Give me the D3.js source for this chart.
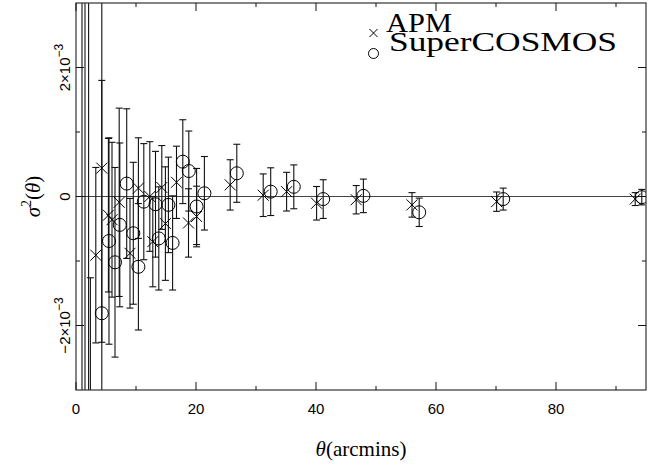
<!DOCTYPE html>
<html>
<head>
<meta charset="utf-8">
<script src="https://cdn.jsdelivr.net/npm/d3@7"></script>
<style>
  body { margin: 0; background: #fff; }
  svg { display: block; }
  .tick-label { font-family: "Liberation Sans", sans-serif; font-size: 15px; fill: #000; }
  .axis-title { font-family: "Liberation Serif", serif; font-size: 21px; fill: #000; }
  .legend-text { font-family: "Liberation Serif", serif; font-size: 28px; fill: #000; }
</style>
</head>
<body>
<svg id="chart" width="652" height="468"></svg>
<script>
'use strict';
(function() {

    // data (sigma and errors in units of 1e-3)
    var apmTheta = [1.0, 2.1, 3.3, 4.3, 5.4, 6.0, 7.2, 9.0, 10.4, 12.3, 12.8, 14.3, 14.9, 16.75, 18.75, 20.1, 25.7, 31.2, 35.1, 40.1, 46.7, 56.0, 70.1, 93.2];
    var apmSigma = [-4.0, -5.0, -0.91, 0.44, -0.29, -0.36, -0.09, -0.88, 0.13, 0.0, -0.70, 0.14, -0.42, 0.22, -0.41, -0.31, 0.18, 0.02, 0.075, -0.105, -0.05, -0.13, -0.08, -0.04];
    var apmErr   = [9.0, 9.0, 1.36, 2.7, 1.19, 1.2, 1.46, 0.85, 0.78, 0.85, 0.70, 0.65, 0.88, 0.56, 0.53, 0.47, 0.39, 0.33, 0.30, 0.26, 0.22, 0.19, 0.15, 0.10];

    var scTheta = [1.5, 2.4, 4.3, 5.5, 6.5, 7.3, 8.45, 9.55, 10.4, 11.3, 13.25, 13.8, 15.4, 16.1, 17.8, 18.8, 20.1, 21.4, 26.8, 32.45, 36.3, 41.2, 47.9, 57.2, 71.2, 94.3];
    var scSigma = [4.0, -5.0, -1.81, -0.69, -1.02, -0.44, 0.20, -0.57, -1.09, -0.08, -0.12, -0.65, -0.13, -0.72, 0.54, 0.395, -0.155, 0.05, 0.36, 0.075, 0.15, -0.04, 0.01, -0.245, -0.04, -0.01];
    var scErr   = [9.0, 3.74, 3.61, 1.6, 1.47, 1.27, 1.16, 1.1, 0.98, 0.9, 0.82, 0.8, 0.74, 0.73, 0.65, 0.62, 0.59, 0.57, 0.45, 0.37, 0.34, 0.30, 0.26, 0.22, 0.17, 0.12];

    var xMajor = [0, 20, 40, 60, 80];
    var xMinor = [10, 30, 50, 70, 90];
    var yMajor = [-2, 0, 2];
    var yMinor = [-1, 1];
    var legendLabels = ['APM', 'SuperCOSMOS'];

    var init = function() {
        var svg = d3.select('#chart');
        var left = 76, right = 646, top = 3, bottom = 390;

        var x = d3.scaleLinear().domain([0, 95]).range([left, right]);
        var y = d3.scaleLinear().domain([-3, 3]).range([bottom, top]);

        function zip(t, s, e) {
            return t.map(function(d, i) { return {t: d, s: s[i], e: e[i]}; });
        }
        var apm = zip(apmTheta, apmSigma, apmErr);
        var sc = zip(scTheta, scSigma, scErr);

        svg.append('defs').append('clipPath').attr('id', 'plotclip')
            .append('rect')
            .attr('x', left).attr('y', top)
            .attr('width', right - left).attr('height', bottom - top);

        var plot = svg.append('g').attr('clip-path', 'url(#plotclip)');

        // zero line
        plot.append('line')
            .attr('x1', left).attr('x2', right)
            .attr('y1', y(0)).attr('y2', y(0))
            .attr('stroke', '#444').attr('stroke-width', 1.2);

        function drawErrors(data) {
            var g = plot.append('g').attr('stroke', '#111').attr('stroke-width', 1.1).attr('fill', 'none');
            var cap = 3.5;
            data.forEach(function(d) {
                var px = x(d.t);
                var y0 = y(d.s - d.e), y1 = y(d.s + d.e);
                g.append('line').attr('x1', px).attr('x2', px).attr('y1', y0).attr('y2', y1);
                g.append('line').attr('x1', px - cap).attr('x2', px + cap).attr('y1', y0).attr('y2', y0);
                g.append('line').attr('x1', px - cap).attr('x2', px + cap).attr('y1', y1).attr('y2', y1);
            });
        }
        drawErrors(apm);
        drawErrors(sc);

        function crossPath(cx, cy, h) {
            return 'M' + (cx - h) + ',' + (cy - h) + 'L' + (cx + h) + ',' + (cy + h) +
                'M' + (cx - h) + ',' + (cy + h) + 'L' + (cx + h) + ',' + (cy - h);
        }

        plot.append('g').selectAll('path')
            .data(apm)
            .enter().append('path')
            .attr('d', function(d) { return crossPath(x(d.t), y(d.s), 5.5); })
            .attr('stroke', '#000').attr('stroke-width', 1).attr('fill', 'none');

        plot.append('g').selectAll('circle')
            .data(sc)
            .enter().append('circle')
            .attr('cx', function(d) { return x(d.t); })
            .attr('cy', function(d) { return y(d.s); })
            .attr('r', 6.5)
            .attr('stroke', '#000').attr('stroke-width', 1).attr('fill', 'none');

        // frame
        svg.append('rect')
            .attr('x', left).attr('y', top)
            .attr('width', right - left).attr('height', bottom - top)
            .attr('fill', 'none').attr('stroke', '#333').attr('stroke-width', 1.2);

        // ticks
        var tg = svg.append('g').attr('stroke', '#111').attr('stroke-width', 1);
        function xTick(v, len) {
            tg.append('line').attr('x1', x(v)).attr('x2', x(v)).attr('y1', bottom).attr('y2', bottom - len);
            tg.append('line').attr('x1', x(v)).attr('x2', x(v)).attr('y1', top).attr('y2', top + len);
        }
        function yTick(v, len) {
            tg.append('line').attr('x1', left).attr('x2', left + len).attr('y1', y(v)).attr('y2', y(v));
            tg.append('line').attr('x1', right).attr('x2', right - len).attr('y1', y(v)).attr('y2', y(v));
        }
        xMajor.forEach(function(v) { xTick(v, 8); });
        xMinor.forEach(function(v) { xTick(v, 4); });
        yMajor.forEach(function(v) { yTick(v, 8); });
        yMinor.forEach(function(v) { yTick(v, 4); });

        // x tick labels
        svg.append('g').selectAll('text')
            .data(xMajor)
            .enter().append('text')
            .attr('class', 'tick-label')
            .attr('x', function(d) { return x(d); })
            .attr('y', 414)
            .attr('text-anchor', 'middle')
            .text(function(d) { return d; });

        // y tick labels (rotated)
        yMajor.forEach(function(v) {
            var ty = y(v);
            var t = svg.append('text')
                .attr('class', 'tick-label')
                .attr('x', 70).attr('y', ty)
                .attr('text-anchor', 'middle')
                .attr('font-size', 16)
                .attr('transform', 'rotate(-90,70,' + ty + ')');
            if (v === 0) {
                t.text('0');
            } else {
                t.append('tspan').text((v < 0 ? '\u2212' : '') + Math.abs(v) + '\u00d710');
                t.append('tspan').attr('dy', -7).attr('font-size', 12).text('\u22123');
            }
        });

        // axis titles
        var xt = svg.append('text')
            .attr('class', 'axis-title')
            .attr('x', x(47.5)).attr('y', 456)
            .attr('text-anchor', 'middle');
        xt.append('tspan').attr('font-style', 'italic').text('\u03b8');
        xt.append('tspan').text('(arcmins)');

        var ycy = y(0);
        var yt = svg.append('text')
            .attr('class', 'axis-title')
            .attr('x', 40).attr('y', ycy)
            .attr('text-anchor', 'middle')
            .attr('font-size', 22)
            .attr('transform', 'rotate(-90,40,' + ycy + ')');
        yt.append('tspan').attr('font-style', 'italic').text('\u03c3');
        yt.append('tspan').attr('dy', -9).attr('font-size', 14).text('2');
        yt.append('tspan').attr('dy', 9).text('(');
        yt.append('tspan').attr('font-style', 'italic').text('\u03b8');
        yt.append('tspan').text(')');

        // legend
        var lg = svg.append('g');
        lg.append('path')
            .attr('d', crossPath(373.5, 33, 4))
            .attr('stroke', '#000').attr('stroke-width', 1).attr('fill', 'none');
        lg.append('circle')
            .attr('cx', 373.5).attr('cy', 53.5).attr('r', 5)
            .attr('stroke', '#000').attr('stroke-width', 1).attr('fill', 'none');
        lg.append('text').attr('class', 'legend-text')
            .attr('x', 386).attr('y', 32)
            .attr('textLength', 66).attr('lengthAdjust', 'spacingAndGlyphs')
            .text(legendLabels[0]);
        lg.append('text').attr('class', 'legend-text')
            .attr('x', 389).attr('y', 51)
            .attr('textLength', 228).attr('lengthAdjust', 'spacingAndGlyphs')
            .text(legendLabels[1]);
    };

    init();
})();
</script>
</body>
</html>
